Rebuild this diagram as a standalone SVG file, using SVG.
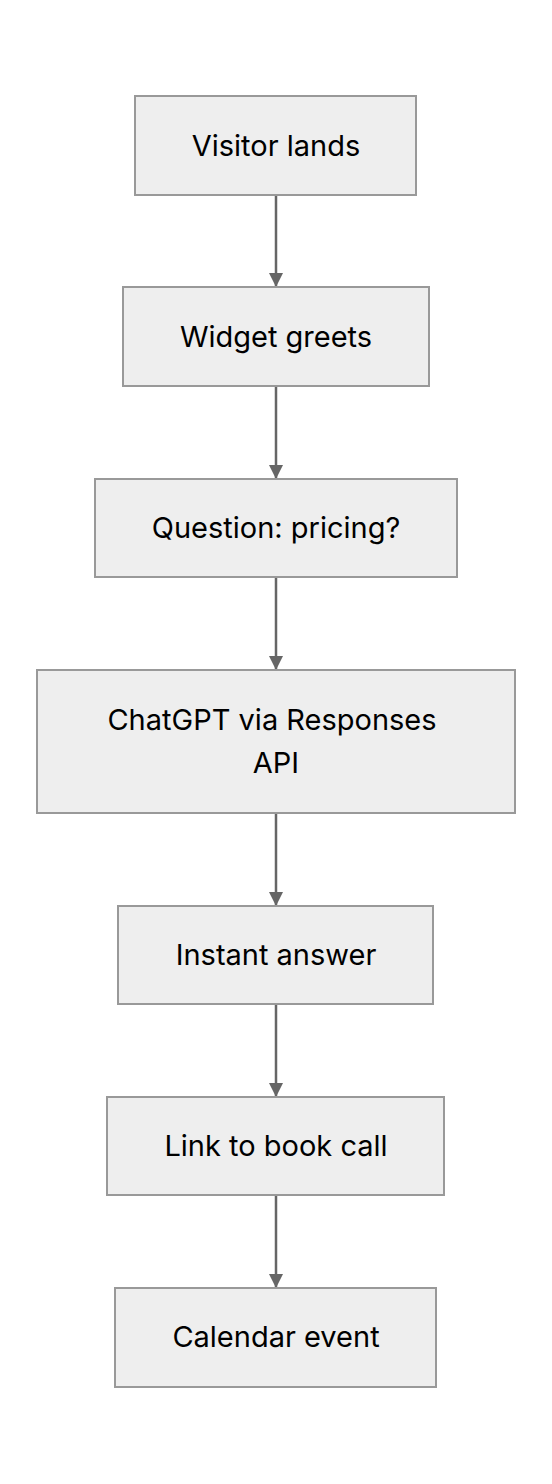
<svg xmlns="http://www.w3.org/2000/svg" width="552" height="1484" viewBox="0 0 552 1484">
<style>
.box{fill:#eeeeee;stroke:#999999;stroke-width:2}
.lbl{font-family:Inter,"Noto Sans",sans-serif;font-size:29px;fill:#000000;text-anchor:middle}
.edge{stroke:#666666;stroke-width:2.5;fill:none}
</style>
<defs>
<marker id="arr" viewBox="0 0 10 10" refX="10" refY="5" markerWidth="14" markerHeight="14" markerUnits="userSpaceOnUse" orient="auto">
<path d="M0,0 L10,5 L0,10 z" fill="#666666"/>
</marker>
</defs>
<rect width="552" height="1484" fill="#ffffff"/>
<g id="connectors">
<line class="edge" x1="276" y1="195" x2="276" y2="287" marker-end="url(#arr)"/>
<line class="edge" x1="276" y1="386" x2="276" y2="479" marker-end="url(#arr)"/>
<line class="edge" x1="276" y1="577" x2="276" y2="670" marker-end="url(#arr)"/>
<line class="edge" x1="276" y1="813" x2="276" y2="906" marker-end="url(#arr)"/>
<line class="edge" x1="276" y1="1004" x2="276" y2="1097" marker-end="url(#arr)"/>
<line class="edge" x1="276" y1="1195" x2="276" y2="1288" marker-end="url(#arr)"/>
</g>
<g id="n1"><rect class="box" x="135" y="96" width="281" height="99"/><text class="lbl" x="276" y="156">Visitor lands</text></g>
<g id="n2"><rect class="box" x="123" y="287" width="306" height="99"/><text class="lbl" x="276" y="347">Widget greets</text></g>
<g id="n3"><rect class="box" x="95" y="479" width="362" height="98"/><text class="lbl" x="276" y="538">Question: pricing?</text></g>
<g id="n4"><rect class="box" x="37" y="670" width="478" height="143"/><text class="lbl" x="272" y="730">ChatGPT via Responses</text><text class="lbl" x="276" y="773">API</text></g>
<g id="n5"><rect class="box" x="118" y="906" width="315" height="98"/><text class="lbl" x="276" y="965">Instant answer</text></g>
<g id="n6"><rect class="box" x="107" y="1097" width="337" height="98"/><text class="lbl" x="276" y="1156">Link to book call</text></g>
<g id="n7"><rect class="box" x="115" y="1288" width="321" height="99"/><text class="lbl" x="276" y="1347">Calendar event</text></g>
</svg>
